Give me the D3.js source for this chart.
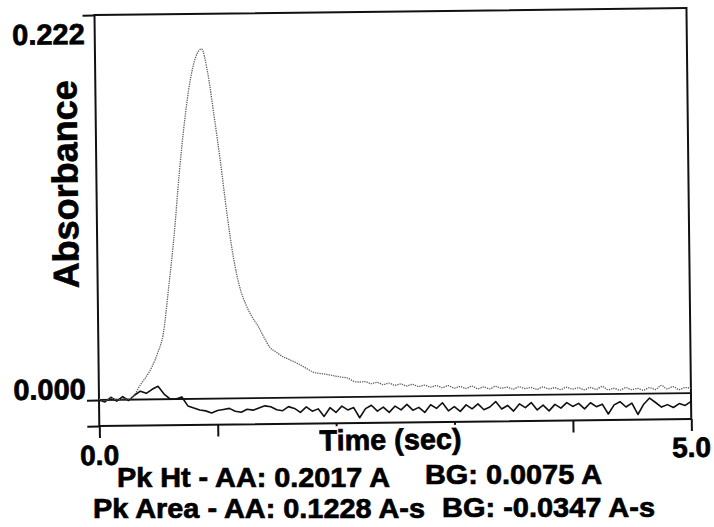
<!DOCTYPE html>
<html>
<head>
<meta charset="utf-8">
<script src="https://cdn.jsdelivr.net/npm/d3@7"></script>
<style>
  body { margin: 0; background: #fff; }
  text { font-family: "Liberation Sans", Arial, sans-serif; font-weight: bold; fill: #000;
         stroke: #000; stroke-width: 0.7px; }
</style>
</head>
<body>
<svg id="chart" width="714" height="527"></svg>
<script>
// Sampling interval of both traces, seconds
const timeStep = 0.05;

// Atomic absorption signal (A), one value per sample
const aaSignal = [
  0.0005, -0.0005, 0.0010, 0.0000, 0.0005, 0.0003, 0.0027, 0.0084, 0.0130, 0.0187,
  0.0267, 0.0380, 0.0647, 0.0940, 0.1300, 0.1600, 0.1830, 0.1970, 0.2017, 0.1880,
  0.1630, 0.1360, 0.1060, 0.0810, 0.0640, 0.0540, 0.0470, 0.0416, 0.0350, 0.0290,
  0.0265, 0.0240, 0.0224, 0.0208, 0.0190, 0.0170, 0.0150, 0.0140, 0.0135, 0.0129,
  0.0122, 0.0115, 0.0110, 0.0092, 0.0086, 0.0088, 0.0076, 0.0083, 0.0070, 0.0078,
  0.0065, 0.0072, 0.0060, 0.0069, 0.0056, 0.0064, 0.0052, 0.0060, 0.0048, 0.0059,
  0.0045, 0.0053, 0.0042, 0.0055, 0.0040, 0.0049, 0.0038, 0.0052, 0.0041, 0.0046,
  0.0035, 0.0048, 0.0037, 0.0043, 0.0032, 0.0045, 0.0034, 0.0040, 0.0029, 0.0042,
  0.0031, 0.0038, 0.0026, 0.0039, 0.0028, 0.0044, 0.0025, 0.0033, 0.0022, 0.0036,
  0.0024, 0.0030, 0.0020, 0.0034, 0.0023, 0.0046, 0.0026, 0.0038, 0.0021, 0.0032,
  0.0028
];

// Background (non-atomic) absorption (A), same sampling
const bgSignal = [
  0.0000, -0.0012, 0.0015, -0.0008, 0.0018, -0.0005, 0.0025, 0.0048, 0.0035, 0.0058,
  0.0075, 0.0030, 0.0001, 0.0000, 0.0012, -0.0040, -0.0052, -0.0065, -0.0070, -0.0082,
  -0.0069, -0.0063, -0.0057, -0.0074, -0.0080, -0.0063, -0.0069, -0.0057, -0.0045, -0.0051,
  -0.0068, -0.0074, -0.0051, -0.0062, -0.0085, -0.0054, -0.0079, -0.0066, -0.0110, -0.0060,
  -0.0088, -0.0052, -0.0074, -0.0061, -0.0120, -0.0068, -0.0049, -0.0083, -0.0060, -0.0091,
  -0.0055, -0.0077, -0.0046, -0.0080, -0.0064, -0.0094, -0.0050, -0.0071, -0.0039, -0.0086,
  -0.0062, -0.0090, -0.0053, -0.0076, -0.0048, -0.0082, -0.0067, -0.0036, -0.0079, -0.0059,
  -0.0092, -0.0051, -0.0073, -0.0044, -0.0087, -0.0060, -0.0093, -0.0056, -0.0078, -0.0047,
  -0.0069, -0.0052, -0.0084, -0.0049, -0.0072, -0.0058, -0.0115, -0.0063, -0.0045, -0.0076,
  -0.0054, -0.0120, -0.0061, -0.0026, -0.0052, -0.0079, -0.0065, -0.0082, -0.0060, -0.0071,
  -0.0048
];

// Axis extents and labels
const timeRange = [0, 5];
const absRange = [-0.015, 0.222];
const timeTicks = [0, 1, 2, 3, 4, 5];
const absTicks = [-0.015, 0, 0.222];
const absTickLabels = ["0.222", "0.000"];
const timeTickLabels = ["0.0", "5.0"];

// Summary readout printed under the plot
const statsRows = [
  ["Pk Ht - AA: 0.2017 A", "BG: 0.0075 A"],
  ["Pk Area - AA: 0.1228 A-s", "BG: -0.0347 A-s"]
];

const svg = d3.select("#chart");
svg.append("rect").attr("width", 714).attr("height", 527).attr("fill", "#fff");

const plot = { left: 99, right: 691, top: 15, bottom: 426 };

const x = d3.scaleLinear().domain(timeRange).range([plot.left, plot.right]);
const y = d3.scaleLinear().domain(absRange).range([plot.bottom, plot.top]);

// The recorder plot sits slightly skewed on the page
const g = svg.append("g").attr("transform", `rotate(-0.67, ${plot.left}, ${y(0)})`);

// Outer frame
g.append("rect")
  .attr("x", plot.left).attr("y", plot.top)
  .attr("width", plot.right - plot.left).attr("height", plot.bottom - plot.top)
  .attr("fill", "none").attr("stroke", "#111").attr("stroke-width", 2);

// Zero absorbance reference line
g.append("line")
  .attr("x1", plot.left).attr("x2", plot.right)
  .attr("y1", y(0)).attr("y2", y(0))
  .attr("stroke", "#111").attr("stroke-width", 1.8);

// Tick marks
const yAxis = d3.axisLeft(y).tickValues(absTicks).tickSize(12).tickFormat("");
const gy = g.append("g").attr("transform", `translate(${plot.left},0)`).call(yAxis);
const xAxis = d3.axisBottom(x).tickValues(timeTicks).tickSize(12).tickFormat("");
const gx = g.append("g").attr("transform", `translate(0,${plot.bottom})`).call(xAxis);
[gx, gy].forEach(a => {
  a.select(".domain").remove();
  a.selectAll(".tick text").remove();
  a.selectAll(".tick line").attr("stroke", "#111").attr("stroke-width", 2);
});

// Traces
const bgLine = d3.line()
  .x((d, i) => x(i * timeStep))
  .y(d => y(d));
const aaLine = d3.line()
  .x((d, i) => x(i * timeStep))
  .y(d => y(d))
  .curve(d3.curveMonotoneX);

g.append("path")
  .datum(bgSignal)
  .attr("d", bgLine)
  .attr("fill", "none")
  .attr("stroke", "#111")
  .attr("stroke-width", 1.6)
  .attr("stroke-linejoin", "round");

g.append("path")
  .datum(aaSignal)
  .attr("d", aaLine)
  .attr("fill", "none")
  .attr("stroke", "#5e5e5e")
  .attr("stroke-width", 1.3)
  .attr("stroke-dasharray", "1.3,1");

// Axis labels
g.append("text").attr("x", 89).attr("y", y(0.222) + 29)
  .attr("text-anchor", "end").style("font-size", "29px").text(absTickLabels[0]);
g.append("text").attr("x", 86).attr("y", y(0) - 1)
  .attr("text-anchor", "end").style("font-size", "29px").text(absTickLabels[1]);

g.append("text")
  .attr("transform", `translate(80, 184) rotate(-90)`)
  .attr("text-anchor", "middle").style("font-size", "36px")
  .text("Absorbance");

g.append("text").attr("x", x(0)).attr("y", 465)
  .attr("text-anchor", "middle").style("font-size", "28px").text(timeTickLabels[0]);
g.append("text").attr("x", x(5)).attr("y", 464)
  .attr("text-anchor", "middle").style("font-size", "28px").text(timeTickLabels[1]);

const title = g.append("text").attr("x", 390).attr("y", 453)
  .attr("text-anchor", "middle").style("font-size", "29px")
  .attr("textLength", 142).attr("lengthAdjust", "spacingAndGlyphs")
  .text("Time (sec)");
const bb = title.node().getBBox();
g.insert("rect", () => title.node())
  .attr("x", bb.x - 2).attr("y", plot.bottom + 3)
  .attr("width", bb.width + 4).attr("height", bb.y + bb.height - plot.bottom - 3)
  .attr("fill", "#fff");

// Summary readout
const statsLayout = [
  [{ x: 117, y: 487, w: 273 }, { x: 425, y: 484, w: 177 }],
  [{ x: 93, y: 518, w: 332 }, { x: 442, y: 517, w: 213 }]
];
statsRows.forEach((row, r) => {
  row.forEach((txt, c) => {
    const p = statsLayout[r][c];
    svg.append("text")
      .attr("x", p.x).attr("y", p.y)
      .style("font-size", "28px")
      .attr("textLength", p.w).attr("lengthAdjust", "spacingAndGlyphs")
      .text(txt);
  });
});
</script>
</body>
</html>
